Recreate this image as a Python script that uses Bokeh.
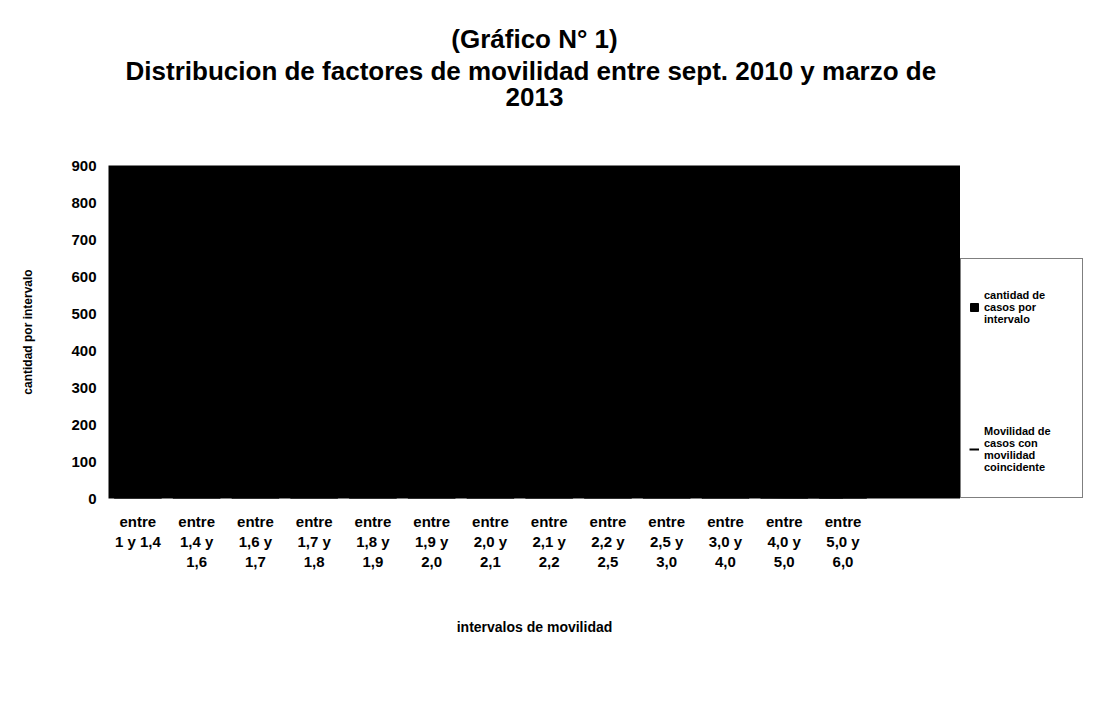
from bokeh.plotting import figure
from bokeh.layouts import row
from bokeh.models import Range1d, Title, Legend, LegendItem, ColumnDataSource, FixedTicker
from bokeh.embed import file_html
from bokeh.resources import INLINE

# ---- data (values hidden in the scan: plot area printed solid black; estimated) ----
categories = [
    "entre\n1 y 1,4", "entre\n1,4 y\n1,6", "entre\n1,6 y\n1,7", "entre\n1,7 y\n1,8",
    "entre\n1,8 y\n1,9", "entre\n1,9 y\n2,0", "entre\n2,0 y\n2,1", "entre\n2,1 y\n2,2",
    "entre\n2,2 y\n2,5", "entre\n2,5 y\n3,0", "entre\n3,0 y\n4,0", "entre\n4,0 y\n5,0",
    "entre\n5,0 y\n6,0",
]
casos_por_intervalo = [120, 310, 540, 760, 820, 610, 430, 300, 380, 210, 90, 30, 10]
movilidad_coincidente = [15, 40, 70, 95, 110, 80, 55, 35, 40, 20, 8, 3, 1]
y_ticks = [0, 100, 200, 300, 400, 500, 600, 700, 800, 900]

series_labels = ["cantidad de\ncasos por\nintervalo", "Movilidad de\ncasos con\nmovilidad\ncoincidente"]
title_lines = ["(Gráfico N° 1)", "Distribucion  de factores de movilidad entre sept. 2010 y marzo de", "2013"]

idx = list(range(1, len(categories) + 1))
src = ColumnDataSource(dict(x=idx, casos=casos_por_intervalo, coinc=movilidad_coincidente))

FONT = "Liberation Sans"
H = 686
TOP, BOTTOM = 165, 188

p = figure(width=960, height=H, output_backend="svg", toolbar_location=None,
           x_range=Range1d(0.5, 15.0), y_range=Range1d(0, 900),
           min_border_left=108, min_border_right=0, min_border_top=TOP,
           min_border_bottom=BOTTOM, title=None)

p.background_fill_color = "black"
p.border_fill_color = "white"
p.outline_line_color = None
p.grid.grid_line_color = None

# spacer between plot and title block, then titles (closest-to-plot first)
p.add_layout(Title(text=" ", text_font_size="52px", standoff=0), "above")
for t in [title_lines[2], title_lines[1], title_lines[0]]:
    p.add_layout(Title(text=t, align="center", text_font=FONT, text_font_size="26px",
                       text_font_style="bold", text_color="black", standoff=0,
                       text_line_height=1.0), "above")

bars = p.vbar(x="x", top="casos", width=0.8, source=src, color="black")
line = p.line(x="x", y="coinc", source=src, color="black", line_width=2)

# axes
xa = p.xaxis[0]
xa.ticker = FixedTicker(ticks=idx)
xa.major_label_overrides = {i: c for i, c in zip(idx, categories)}
xa.major_label_text_font = FONT
xa.major_label_text_font_size = "15px"
xa.major_label_text_font_style = "bold"
xa.major_label_text_color = "black"
xa.major_label_standoff = 8
xa.axis_line_color = None
xa.major_tick_line_color = None
xa.minor_tick_line_color = None
xa.axis_label = "intervalos de movilidad"
xa.axis_label_text_font = FONT
xa.axis_label_text_font_size = "14px"
xa.axis_label_text_font_style = "bold"
xa.axis_label_text_color = "black"
xa.axis_label_standoff = 46

ya = p.yaxis[0]
ya.ticker = FixedTicker(ticks=y_ticks)
ya.major_label_text_font = FONT
ya.major_label_text_font_size = "15px"
ya.major_label_text_font_style = "bold"
ya.major_label_text_color = "black"
ya.major_label_standoff = 6
ya.axis_line_color = None
ya.major_tick_line_color = None
ya.minor_tick_line_color = None
ya.axis_label = "cantidad por intervalo"
ya.axis_label_text_font = FONT
ya.axis_label_text_font_size = "12px"
ya.axis_label_text_font_style = "bold"
ya.axis_label_text_color = "black"
ya.axis_label_standoff = 33

# legend panel: a narrow companion figure holding the legend box
lg = figure(width=126, height=H, output_backend="svg", toolbar_location=None,
            x_range=Range1d(-20, -19), y_range=Range1d(-20, -19),
            x_axis_type=None, y_axis_type=None,
            min_border_left=0, min_border_right=0, min_border_top=TOP,
            min_border_bottom=BOTTOM, title=None)
lg.outline_line_color = None
lg.grid.grid_line_color = None
lg.background_fill_color = "white"
lg_bars = lg.vbar(x="x", top="casos", width=0.8, source=src, color="black")
lg_line = lg.line(x="x", y="coinc", source=src, color="black", line_width=2)

legend = Legend(items=[LegendItem(label=series_labels[0], renderers=[lg_bars]),
                       LegendItem(label=series_labels[1], renderers=[lg_line])],
                location=(0, 0), margin=0, padding=8, spacing=62,
                glyph_width=10, glyph_height=10, label_width=90, label_height=80,
                label_standoff=5, label_text_font=FONT, label_text_font_size="11px",
                label_text_font_style="bold", label_text_color="black",
                border_line_color="black", border_line_width=1.5,
                background_fill_color="white", background_fill_alpha=1.0)
lg.add_layout(legend, "center")

layout = row(p, lg, spacing=0)
open("out.html", "w").write(file_html(layout, INLINE))
